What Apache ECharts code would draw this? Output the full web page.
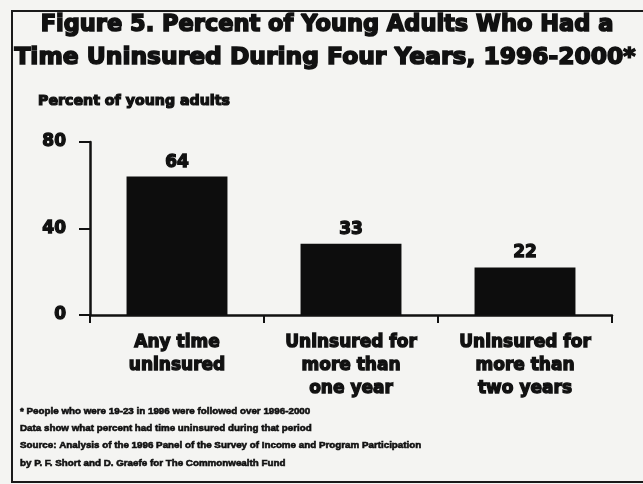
<!DOCTYPE html>
<html><head><meta charset="utf-8">
<script src="https://cdn.jsdelivr.net/npm/echarts@6/dist/echarts.min.js"></script>
<style>html,body{margin:0;padding:0;background:#e9e9e7}#c{width:643px;height:484px}</style>
</head><body><div id="c"></div>
<script>
const categories = ['Any time\nuninsured', 'Uninsured for\nmore than\none year', 'Uninsured for\nmore than\ntwo years'];
const values = [64, 33, 22];
const yTicks = [0, 40, 80];
const titleLines = ['Figure 5. Percent of Young Adults Who Had a', 'Time Uninsured During Four Years, 1996-2000*'];
const axisTitle = 'Percent of young adults';
const notes = [
  '* People who were 19-23 in 1996 were followed over 1996-2000',
  'Data show what percent had time uninsured during that period',
  'Source: Analysis of the 1996 Panel of the Survey of Income and Program Participation',
  'by P. F. Short and D. Graefe for The Commonwealth Fund'
];
const WIDE = '"DejaVu Sans", sans-serif';
const NARROW = '"Liberation Sans", Arial, sans-serif';
const ink = '#111';
const chart = echarts.init(document.getElementById('c'));
const heavy = (family, size, lw) => ({fontFamily: family, fontWeight: 'bold', fontSize: size, fill: ink, stroke: ink, lineWidth: lw});
chart.setOption({
  backgroundColor: '#f4f4f2',
  animation: false,
  graphic: [
    {type: 'rect', shape: {x: 12, y: 11, width: 640, height: 471}, style: {fill: 'none', stroke: '#1a1a1a', lineWidth: 2}},
    {type: 'text', x: 327, y: 25, style: Object.assign({text: titleLines[0], align: 'center', verticalAlign: 'middle'}, heavy(WIDE, 22.5, 1.6))},
    {type: 'text', x: 325, y: 58, style: Object.assign({text: titleLines[1], align: 'center', verticalAlign: 'middle'}, heavy(WIDE, 23.4, 1.6))},
    {type: 'text', x: 38, y: 101, style: Object.assign({text: axisTitle, align: 'left', verticalAlign: 'middle'}, heavy(WIDE, 14.2, 1.2))},
  ].concat(notes.map((t, i) => ({type: 'text', x: 20, y: 411 + i * 17.3,
    style: Object.assign({text: t, align: 'left', verticalAlign: 'middle'}, heavy(NARROW, 9.8, 0.6))}))),
  grid: {left: 90, right: 31, top: 142, bottom: 169},
  xAxis: {
    type: 'category', data: categories,
    axisLine: {lineStyle: {color: ink, width: 2.5}},
    axisTick: {show: true, length: 8, lineStyle: {color: ink, width: 2}},
    axisLabel: {color: ink, fontFamily: WIDE, fontWeight: 'bold', fontSize: 17, lineHeight: 23, margin: 16,
      textBorderColor: ink, textBorderWidth: 1.3}
  },
  yAxis: {
    type: 'value', min: 0, max: 80, interval: 40,
    axisLine: {show: true, lineStyle: {color: ink, width: 2.5}},
    axisTick: {show: true, length: 11, lineStyle: {color: ink, width: 2}},
    splitLine: {show: false},
    axisLabel: {color: ink, fontFamily: WIDE, fontWeight: 'bold', fontSize: 17, margin: 24,
      textBorderColor: ink, textBorderWidth: 1.3,
      formatter: v => yTicks.includes(v) ? String(v) : ''}
  },
  series: [{
    type: 'bar', data: values, barWidth: '58%',
    itemStyle: {color: '#0d0d0d'},
    label: {show: true, position: 'top', distance: 6, color: ink, fontFamily: WIDE, fontWeight: 'bold', fontSize: 17,
      textBorderColor: ink, textBorderWidth: 1.3}
  }]
});
</script></body></html>
